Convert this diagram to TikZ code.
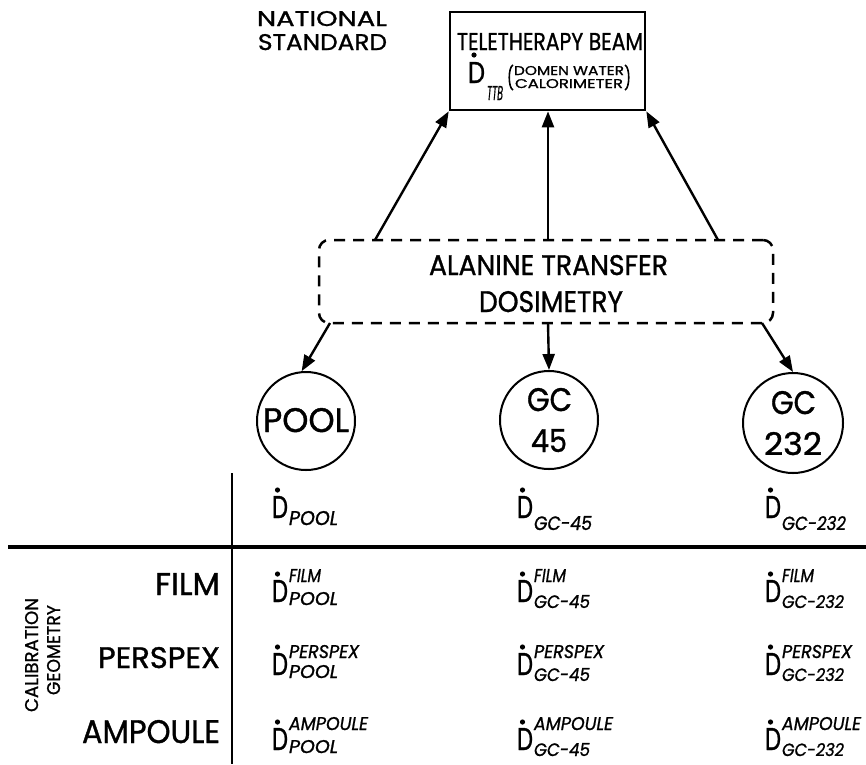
\documentclass[tikz,border=0pt]{standalone}
\usepackage{fontspec}
\setmainfont{Poppins}[FakeBold=1.1]
\usepackage{graphicx}
\usetikzlibrary{arrows.meta}
\newcommand{\fit}[3]{\resizebox{#1pt}{#2pt}{#3}}
\tikzset{
  lbl/.style={inner sep=0pt, outer sep=0pt, anchor=base west},
  arr/.style={line width=2.4pt, -{Triangle[length=16pt,width=12pt]}},
  ring/.style={circle, draw, line width=2pt, minimum size=98pt, inner sep=0pt},
  rule/.style={line width=2.5pt},
}
% #1 name, #2 xD, #3 yb, #4 sup, #5 sup width, #6 sub, #7 sub width, #8 sub dy, #9 sup dy
\newcommand{\dcell}[9]{%
  \node[lbl] (#1D) at (#2,#3) {\fit{16}{22}{D}};
  \fill (#2+5.5,#3-28) circle (2.6pt);
  \node[lbl] (#1p) at (#2+17,#3-#9) {\fit{#5}{13}{\itshape #4}};
  \node[lbl] (#1b) at (#2+17,#3+#8) {\fit{#7}{13}{\itshape #6}};
}
\newcommand{\dhead}[5]{%
  \node[lbl] (#1D) at (#2,#3) {\fit{16}{22}{D}};
  \fill (#2+5.5,#3-28) circle (2.6pt);
  \node[lbl] (#1b) at (#2+17,#3+#5) {\fit{#4}{14}{\itshape #1}};
}
\begin{document}
\begin{tikzpicture}[x=1pt,y=-1pt]
\useasboundingbox (0,0) rectangle (866,764);

% national standard
\node[lbl] (nat) at (257,26) {\fit{130}{15}{NATIONAL}};
\node[lbl] (std) at (258,50) {\fit{129}{16}{STANDARD}};

% teletherapy box
\node[draw, line width=2.6pt, minimum width=195pt, minimum height=98pt, inner sep=0pt] (ttb) at (547.5,61) {};
\node[lbl] (tbt) at (457,50) {\fit{186}{17}{TELETHERAPY BEAM}};
\node[lbl] (dttb) at (468,83) {\fit{17}{21}{D}};
\fill (474,55) circle (2.6pt);
\node[lbl] (ttbsub) at (487,100) {\fit{16}{14}{\itshape TTB}};
\node[lbl] (dw) at (514,75) {\fit{110}{9}{DOMEN WATER}};
\node[lbl] (cal) at (515,88) {\fit{108}{9}{CALORIMETER}};
\draw[line width=1.6pt] (513,65) .. controls (508,67) and (508,88) .. (513,90);
\draw[line width=1.6pt] (625,65) .. controls (630,67) and (630,88) .. (625,90);

% alanine box
\node[draw, line width=2.5pt, dash pattern=on 11pt off 8pt, rounded corners=10pt,
      minimum width=454pt, minimum height=83pt, inner sep=0pt] (alan) at (546,281.5) {};
\node[lbl] (al1) at (429,275) {\fit{239}{20}{ALANINE TRANSFER}};
\node[lbl] (al2) at (479,312) {\fit{144}{21}{DOSIMETRY}};

\coordinate (u1) at (375,240);
\coordinate (u2) at (548,240);
\coordinate (u3) at (718,240);
\draw[arr] (u1) -- (ttb.south west);
\draw[arr] (u2) -- (ttb.south -| u2);
\draw[arr] (u3) -- (ttb.south east);

% circles
\node[ring] (pool) at (306,421) {};
\node[ring] (gc45) at (549,420) {};
\node[ring, minimum size=100pt] (gc232) at (793,423) {};
\node[lbl] (poolt) at (263,432) {\fit{86}{24}{POOL}};
\node[lbl] (gca) at (527,411) {\fit{45}{23}{GC}};
\node[lbl] (n45) at (531,452) {\fit{36}{23}{45}};
\node[lbl] (gcb) at (771,414) {\fit{45}{23}{GC}};
\node[lbl] (n232) at (764,455) {\fit{58}{23}{232}};

\coordinate (d1) at (330,323);
\coordinate (d2) at (548,323);
\coordinate (d3) at (762,323);
\draw[arr] (d1) -- (pool.95);
\draw[arr] (d2) -- (gc45.north);
\draw[arr] (d3) -- (gc232.north);

% table rules
\coordinate (vt) at (232,473);
\coordinate (vb) at (232,764);
\coordinate (hl) at (8,547);
\coordinate (hr) at (866,547);
\draw[rule] (vt) -- (vb);
\draw[line width=3.6pt] (hl) -- (hr);

% row labels
\node[lbl] (rf) at (155,595) {\fit{65}{22}{FILM}};
\node[lbl] (rp) at (98,668) {\fit{122}{21}{PERSPEX}};
\node[lbl] (ra) at (82,743) {\fit{138}{23}{AMPOULE}};
\node[rotate=90, anchor=base, inner sep=0pt] (cg1) at (38,655) {\fit{114}{13}{CALIBRATION}};
\node[rotate=90, anchor=base, inner sep=0pt] (cg2) at (60,650) {\fit{90}{13}{GEOMETRY}};

% header cells
\dhead{POOL}{272}{518}{49}{7}
\dhead{GC-45}{517}{518}{58}{12}
\dhead{GC-232}{765}{518}{64}{12}

% body cells
\dcell{fa}{272}{602}{FILM}{32}{POOL}{49}{3}{20}
\dcell{fb}{517}{602}{FILM}{32}{GC-45}{56}{6}{20}
\dcell{fc}{765}{602}{FILM}{32}{GC-232}{62}{6}{20}
\dcell{pa}{272}{675}{PERSPEX}{70}{POOL}{49}{3}{17}
\dcell{pb}{517}{675}{PERSPEX}{70}{GC-45}{56}{6}{17}
\dcell{pc}{765}{675}{PERSPEX}{70}{GC-232}{62}{6}{17}
\dcell{aa}{272}{750}{AMPOULE}{79}{POOL}{49}{3}{20}
\dcell{ab}{517}{750}{AMPOULE}{79}{GC-45}{56}{6}{20}
\dcell{ac}{765}{750}{AMPOULE}{79}{GC-232}{62}{6}{20}
\end{tikzpicture}
\end{document}
